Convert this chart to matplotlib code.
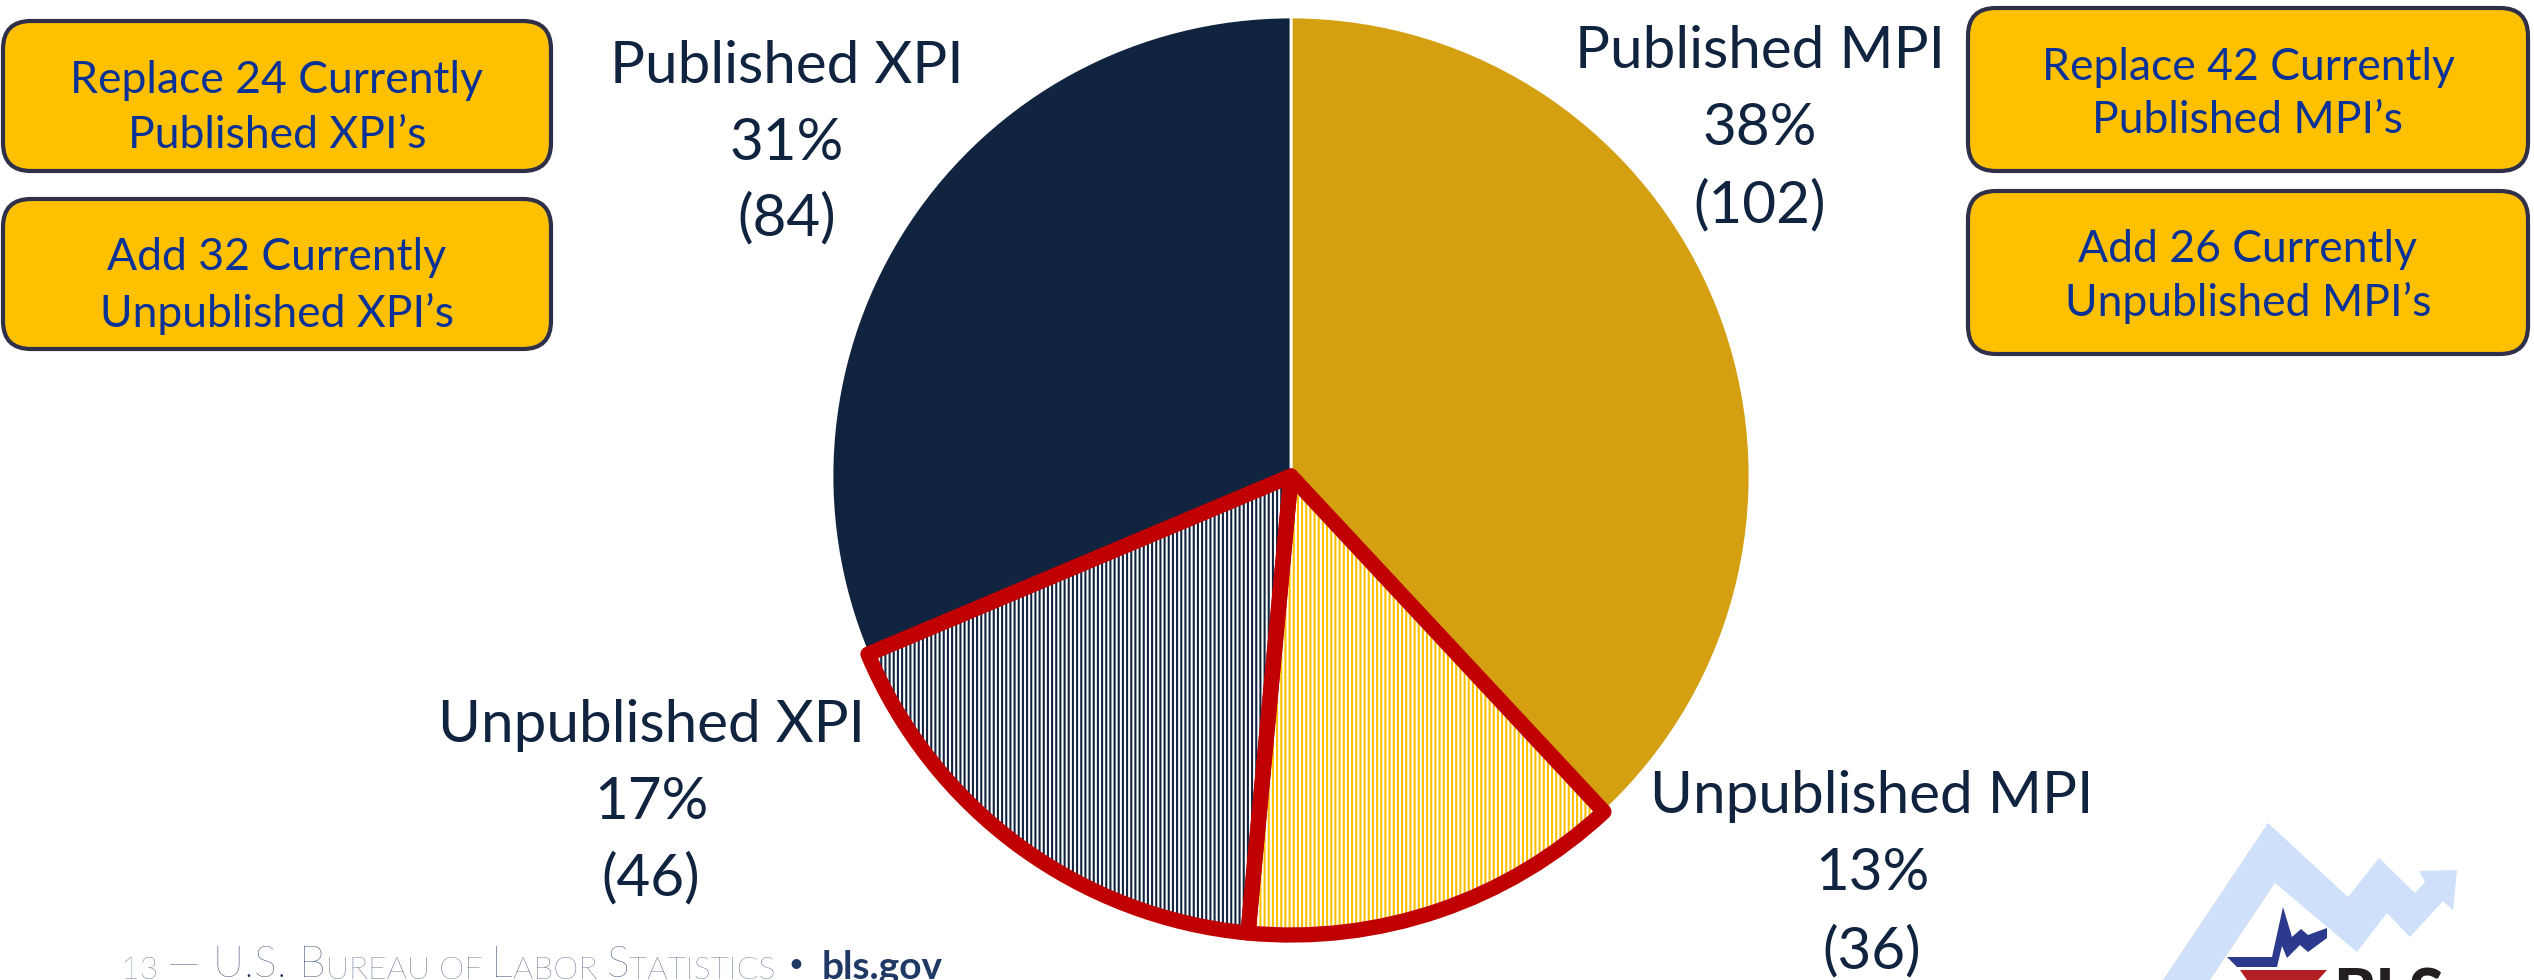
import matplotlib.pyplot as plt
from matplotlib.patches import Wedge, FancyBboxPatch, Polygon

# --- data ---
categories = ['Published MPI', 'Unpublished MPI', 'Unpublished XPI', 'Published XPI']
counts = [102, 36, 46, 84]
hatched = [False, True, True, False]

xpi_notes = ['Replace 24 Currently\nPublished XPI’s', 'Add 32 Currently\nUnpublished XPI’s']
mpi_notes = ['Replace 42 Currently\nPublished MPI’s', 'Add 26 Currently\nUnpublished MPI’s']

footer_parts = [('13 ', 's'), ('— ', 'b'), ('U.S. B', 'b'), ('UREAU OF ', 's'), ('L', 'b'),
                ('ABOR ', 's'), ('S', 'b'), ('TATISTICS ', 's'), ('• ', 'b'), ('bls.gov', 'bold')]

# --- style ---
slice_colors = ['#D4A012', 'white', 'white', '#10233F']
stripe_colors = [None, '#FFC000', '#10233F', None]
red = '#C00000'
label_color = '#10233F'
box_fill = '#FFC000'
box_edge = '#2D3048'
box_text = '#0A3296'

plt.rcParams['font.family'] = ['Lato', 'DejaVu Sans']
plt.rcParams['hatch.linewidth'] = 1.5

W, H = 2534, 980
fig = plt.figure(figsize=(W / 100, H / 100), dpi=100)
ax = fig.add_axes([0, 0, 1, 1])

# pie in pixel coordinates
wedges, _ = ax.pie(counts, colors=slice_colors, startangle=90, counterclock=False,
                   center=(1291, H - 476), radius=459,
                   wedgeprops=dict(edgecolor='white', linewidth=2))
ax.set_xlim(0, W)
ax.set_ylim(0, H)
ax.set_aspect('equal')
ax.axis('off')

for i, w in enumerate(wedges):
    if hatched[i]:
        w.set_facecolor('white')
        w.set_edgecolor(stripe_colors[i])
        w.set_linewidth(0)
        w.set_hatch('||||')
for i, w in enumerate(wedges):
    if hatched[i]:
        ax.add_patch(Wedge(w.center, w.r, w.theta1, w.theta2, fill=False,
                           edgecolor=red, linewidth=11, joinstyle='round', zorder=3))

# slice labels: name / percent / (count)
total = sum(counts)
label_pos = {
    'Published MPI': (1760, [68, 145, 222]),
    'Unpublished MPI': (1872, [813, 890, 968]),
    'Unpublished XPI': (651, [742, 819, 895]),
    'Published XPI': (787, [83, 160, 235]),
}
for name, n in zip(categories, counts):
    x, ys = label_pos[name]
    lines = [name, f'{round(100 * n / total)}%', f'({n})']
    for txt, y in zip(lines, ys):
        ax.text(x, H - y, txt, ha='center', va='baseline', fontsize=42, color=label_color)

# note boxes
def note_box(x0, y_top, w, h, text, y_lines):
    ax.add_patch(FancyBboxPatch((x0, H - y_top - h), w, h,
                                boxstyle='round,pad=0,rounding_size=28',
                                facecolor=box_fill, edgecolor=box_edge, linewidth=3))
    for line, y in zip(text.split('\n'), y_lines):
        ax.text(x0 + w / 2, H - y, line, ha='center', va='baseline',
                fontsize=32, color=box_text)

note_box(3, 21, 548, 150, xpi_notes[0], [93, 148])
note_box(3, 199, 548, 150, xpi_notes[1], [270, 327])
note_box(1968, 8, 560, 163, mpi_notes[0], [80, 133])
note_box(1968, 191, 560, 163, mpi_notes[1], [262, 316])

# footer in small caps (cut by the bottom edge, as in the slide)
foot_color = '#1F3864'
sizes = {'s': 23, 'b': 31, 'bold': 28}
prev = ax.text(121, 1, footer_parts[0][0], fontsize=sizes[footer_parts[0][1]],
               color=foot_color, fontweight='light', va='baseline')
for txt, kind in footer_parts[1:]:
    prev = ax.annotate(txt, xy=(1, 0), xycoords=prev, va='bottom', ha='left',
                       fontsize=sizes[kind], color=foot_color,
                       fontweight='bold' if kind == 'bold' else 'light')

# BLS logo (partly cut at the bottom edge)
arrow = [(2163, 980), (2268, 823), (2348, 897), (2379, 858), (2415, 893), (2425, 882),
         (2419, 871), (2457, 870), (2453, 910), (2443, 901), (2410, 937), (2387, 913),
         (2357, 952), (2275, 883), (2210, 980)]
ax.add_patch(Polygon([(x, H - y) for x, y in arrow], closed=True, facecolor='#CFE0FA',
                     edgecolor='none'))
spark = [(2227, 957), (2272, 957), (2283, 907), (2292, 937), (2301, 929), (2308, 935),
         (2327, 928), (2327, 938), (2308, 952), (2300, 945), (2287, 958), (2282, 946),
         (2277, 967), (2237, 967)]
ax.add_patch(Polygon([(x, H - y) for x, y in spark], closed=True, facecolor='#2B3A8C',
                     edgecolor='none'))
stripe = [(2240, 970), (2327, 970), (2318, 980), (2247, 980)]
ax.add_patch(Polygon([(x, H - y) for x, y in stripe], closed=True, facecolor='#B22025',
                     edgecolor='none'))
ax.text(2333, H - 968, 'BLS', fontsize=46, fontweight='black', color='#231F20',
        va='top', ha='left')

fig.savefig('out.png', dpi=100)
